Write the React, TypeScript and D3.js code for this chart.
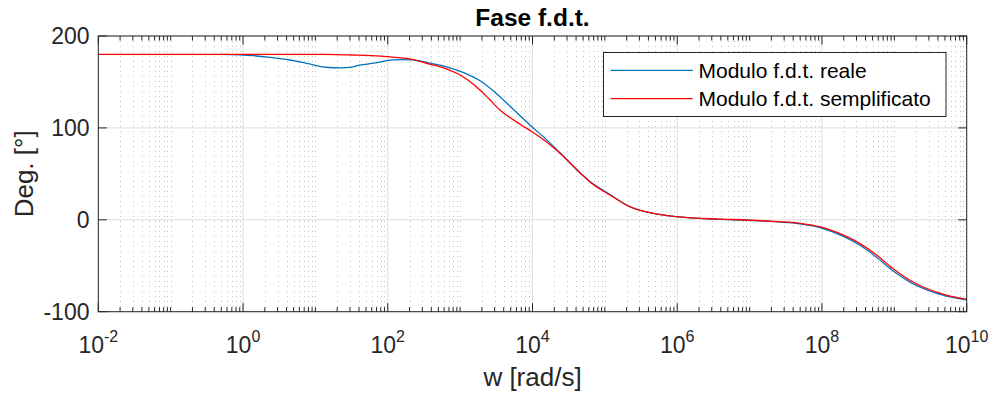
import React from "react";
import * as d3 from "d3";

// ---- data (log10 of w in rad/s, phase in degrees) ----
const realLogW = [-0.30, 0.14, 0.37, 0.65, 0.88, 1.15, 1.34, 1.48, 1.61, 1.85, 1.98, 2.17, 2.35, 2.58, 2.81, 3.04, 3.27, 3.50, 3.73, 3.96, 4.19, 4.38, 4.66, 4.79, 5.07, 5.34, 5.67, 5.99, 6.59, 6.77, 7.23, 7.69, 7.97, 8.29, 8.52, 8.75, 8.98, 9.21, 9.44, 9.72, 10];
const realPhase = [180, 178.6, 176.8, 173.9, 170.3, 166, 165.3, 165.8, 168.2, 171, 173.1, 174.4, 174, 170.5, 166.5, 160.5, 151.5, 137.5, 120.5, 103.5, 87.5, 73, 51, 42, 27.5, 14.5, 7, 3.4, 0.5, 0, -1.5, -4.3, -8.4, -17.8, -27.5, -40.5, -55.5, -67.5, -76, -83, -87];

const simpLogW = [-2, 1.0, 1.3, 1.5, 1.9, 2.1, 2.26, 2.58, 2.81, 3.0, 3.13, 3.27, 3.41, 3.55, 3.83, 4.01, 4.19, 4.38, 4.66, 4.79, 5.07, 5.34, 5.67, 5.99, 6.59, 6.77, 7.23, 7.69, 7.97, 8.29, 8.52, 8.75, 8.98, 9.21, 9.44, 9.72, 10];
const simpPhase = [180, 180, 179.8, 179.3, 178, 176.8, 175.7, 169.5, 164.3, 157.5, 150.8, 141.5, 130.6, 119.4, 104, 95, 85, 72.5, 51, 41.5, 27, 14.3, 7, 3.4, 0.8, 0.3, -1.3, -3.8, -7.5, -16.5, -25.6, -38, -53, -65.5, -74.5, -82, -86.5];

const xTickExps = [-2, 0, 2, 4, 6, 8, 10];
const yTicks = [-100, 0, 100, 200];
const legendLabels = ["Modulo f.d.t. reale", "Modulo f.d.t. semplificato"];
const seriesColors = ["#0072BD", "#FF0000"];
const titleText = "Fase f.d.t.";
const xLabel = "w [rad/s]";
const yLabel = "Deg. [°]";

const W = 994;
const H = 397;
const L = 98.3, R = 966.7, T = 36, B = 311.7;
const AX = "#262626";
const FONT = "'Liberation Sans', Arial, Helvetica, sans-serif";

export default function App() {
  const x = d3.scaleLog().domain([1e-2, 1e10]).range([L, R]);
  const y = d3.scaleLinear().domain([-100, 200]).range([B, T]);

  const minor: number[] = [];
  for (let e = -2; e < 10; e++) {
    for (let k = 1; k <= 9; k++) {
      const v = k * Math.pow(10, e);
      if (k === 1 && e % 2 === 0) continue;
      minor.push(v);
    }
  }

  const line = d3
    .line<[number, number]>()
    .x((d) => x(Math.pow(10, d[0])))
    .y((d) => y(d[1]))
    .curve(d3.curveMonotoneX);

  const realPts = realLogW.map((v, i) => [v, realPhase[i]] as [number, number]);
  const simpPts = simpLogW.map((v, i) => [v, simpPhase[i]] as [number, number]);

  const legX = 603.5, legY = 52.5, legW = 342.5, legH = 64;
  const legRows = [70.3, 98.7];

  return (
    <svg
      width={W}
      height={H}
      style={{ position: "absolute", left: 0, top: 0, background: "#fff" }}
      fontFamily={FONT}
    >
      <rect x={0} y={0} width={W} height={H} fill="#fff" />
      {/* minor grid */}
      {minor.map((v, i) => (
        <line
          key={"mg" + i}
          x1={Math.round(x(v)) + 0.5}
          x2={Math.round(x(v)) + 0.5}
          y1={T}
          y2={B}
          stroke="#c2c2c2"
          strokeWidth={1}
          strokeDasharray="1,4"
        />
      ))}
      {/* major grid */}
      {xTickExps.map((e) => (
        <line
          key={"xg" + e}
          x1={x(Math.pow(10, e))}
          x2={x(Math.pow(10, e))}
          y1={T}
          y2={B}
          stroke="#dedede"
          strokeWidth={1}
        />
      ))}
      {yTicks.map((t) => (
        <line key={"yg" + t} x1={L} x2={R} y1={y(t)} y2={y(t)} stroke="#dedede" strokeWidth={1} />
      ))}

      {/* series */}
      <path d={line(realPts) || ""} fill="none" stroke={seriesColors[0]} strokeWidth={1.3} />
      <path d={line(simpPts) || ""} fill="none" stroke={seriesColors[1]} strokeWidth={1.3} />

      {/* axes box */}
      <rect x={L} y={T} width={R - L} height={B - T} fill="none" stroke={AX} strokeWidth={1} />

      {/* x ticks */}
      {xTickExps.map((e) => (
        <g key={"xt" + e}>
          <line x1={x(Math.pow(10, e))} x2={x(Math.pow(10, e))} y1={B} y2={B - 8.5} stroke={AX} />
          <line x1={x(Math.pow(10, e))} x2={x(Math.pow(10, e))} y1={T} y2={T + 8.5} stroke={AX} />
        </g>
      ))}
      {minor.map((v, i) => (
        <g key={"mt" + i}>
          <line x1={x(v)} x2={x(v)} y1={B} y2={B - 4.5} stroke={AX} />
          <line x1={x(v)} x2={x(v)} y1={T} y2={T + 4.5} stroke={AX} />
        </g>
      ))}
      {/* y ticks */}
      {yTicks.map((t) => (
        <g key={"yt" + t}>
          <line x1={L} x2={L + 8.5} y1={y(t)} y2={y(t)} stroke={AX} />
          <line x1={R} x2={R - 8.5} y1={y(t)} y2={y(t)} stroke={AX} />
          <text
            x={89.5}
            y={y(t)}
            textAnchor="end"
            dominantBaseline="central"
            fontSize={23}
            fill={AX}
          >
            {t}
          </text>
        </g>
      ))}
      {/* x tick labels */}
      {xTickExps.map((e) => (
        <text key={"xl" + e} x={x(Math.pow(10, e))} y={352.7} textAnchor="middle" fontSize={23} fill={AX}>
          <tspan>10</tspan>
          <tspan dy={-11} fontSize={16}>
            {String(e)}
          </tspan>
        </text>
      ))}

      {/* labels */}
      <text x={(L + R) / 2} y={386} textAnchor="middle" fontSize={26} fill={AX}>
        {xLabel}
      </text>
      <text
        transform={`translate(32.5,${(T + B) / 2}) rotate(-90)`}
        textAnchor="middle"
        fontSize={26}
        fill={AX}
      >
        {yLabel}
      </text>
      <text x={(L + R) / 2} y={26} textAnchor="middle" fontSize={24.5} fontWeight="bold" fill="#000">
        {titleText}
      </text>

      {/* legend */}
      <rect x={legX} y={legY} width={legW} height={legH} fill="#fff" stroke={AX} strokeWidth={1} />
      {legendLabels.map((lab, i) => (
        <g key={"lg" + i}>
          <line x1={610.7} x2={692.7} y1={legRows[i]} y2={legRows[i]} stroke={seriesColors[i]} strokeWidth={1.3} />
          <text x={698.5} y={legRows[i]} dominantBaseline="central" fontSize={21} fill="#000">
            {lab}
          </text>
        </g>
      ))}
    </svg>
  );
}
